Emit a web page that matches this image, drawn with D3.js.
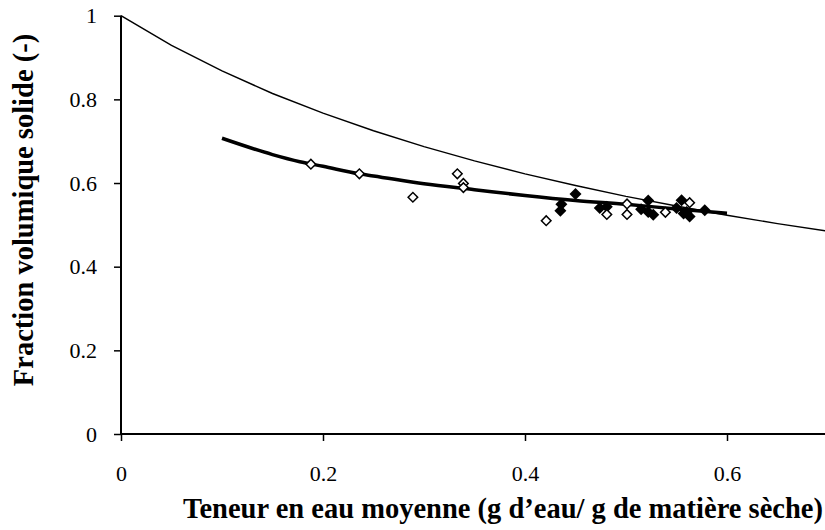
<!DOCTYPE html>
<html><head><meta charset="utf-8">
<script src="https://cdn.jsdelivr.net/npm/d3@7"></script>
<style>body{margin:0;background:#fff}svg{display:block}
text{font-family:"Liberation Serif","Times New Roman","DejaVu Serif",serif}</style>
</head><body>
<svg id="c" width="825" height="530"></svg>
<script>
// Model curve (thin line)
const modelX = [0, 0.05, 0.1, 0.15, 0.2, 0.25, 0.3, 0.35, 0.4, 0.45, 0.5, 0.55, 0.6, 0.65, 0.7];
const modelY = [1.000, 0.929, 0.868, 0.814, 0.767, 0.725, 0.687, 0.653, 0.622, 0.594, 0.568, 0.545, 0.523, 0.503, 0.485];
// Fit curve (thick line)
const fitX = [0.1, 0.15, 0.177, 0.2, 0.236, 0.25, 0.3, 0.35, 0.4, 0.45, 0.5, 0.55, 0.6];
const fitY = [0.707, 0.668, 0.651, 0.640, 0.622, 0.617, 0.598, 0.584, 0.570, 0.558, 0.549, 0.538, 0.528];
// Open diamonds
const openX = [0.188, 0.236, 0.289, 0.333, 0.339, 0.339, 0.421, 0.481, 0.501, 0.501, 0.539, 0.563];
const openY = [0.645, 0.622, 0.566, 0.622, 0.599, 0.589, 0.510, 0.525, 0.550, 0.525, 0.530, 0.553];
// Filled diamonds
const fillX = [0.450, 0.436, 0.435, 0.474, 0.481, 0.515, 0.522, 0.522, 0.527, 0.555, 0.550, 0.563, 0.560, 0.578, 0.557];
const fillY = [0.574, 0.549, 0.534, 0.540, 0.543, 0.537, 0.558, 0.531, 0.524, 0.559, 0.540, 0.520, 0.531, 0.535, 0.527];
// Ticks
const xTicks = [0, 0.2, 0.4, 0.6];
const xTickLabels = ["0", "0.2", "0.4", "0.6"];
const yTicks = [0, 0.2, 0.4, 0.6, 0.8, 1];
const yTickLabels = ["0", "0.2", "0.4", "0.6", "0.8", "1"];
const xTitle = "Teneur en eau moyenne (g d\u2019eau/ g de mati\u00e8re s\u00e8che)";
const yTitle = "Fraction volumique solide (-)";

const svg = d3.select("#c");
const x = d3.scaleLinear().domain([0, 0.7]).range([121, 828]);
const y = d3.scaleLinear().domain([0, 1]).range([434, 15.7]);

svg.append("defs").append("clipPath").attr("id", "pc")
  .append("rect").attr("x", 121).attr("y", 0).attr("width", 704).attr("height", 434);

const line = d3.line().x(d => x(d[0])).y(d => y(d[1]));
const plot = svg.append("g").attr("clip-path", "url(#pc)");
plot.append("path").datum(modelX.map((v, i) => [v, modelY[i]]))
  .attr("d", line).attr("fill", "none").attr("stroke", "#000").attr("stroke-width", 1.4);
plot.append("path").datum(fitX.map((v, i) => [v, fitY[i]]))
  .attr("d", d3.line().x(d => x(d[0])).y(d => y(d[1])).curve(d3.curveMonotoneX))
  .attr("fill", "none").attr("stroke", "#000").attr("stroke-width", 3.5).attr("stroke-linejoin", "round");

const diamondFilled = d3.symbol().type(d3.symbolSquare).size(72)();
const diamondOpen = d3.symbol().type(d3.symbolSquare).size(46)();
plot.selectAll(".f").data(fillX.map((v, i) => [v, fillY[i]])).enter().append("path")
  .attr("d", diamondFilled)
  .attr("transform", d => `translate(${x(d[0])},${y(d[1])}) rotate(45)`)
  .attr("fill", "#000");
plot.selectAll(".o").data(openX.map((v, i) => [v, openY[i]])).enter().append("path")
  .attr("d", diamondOpen)
  .attr("transform", d => `translate(${x(d[0])},${y(d[1])}) rotate(45)`)
  .attr("fill", "#fff").attr("stroke", "#000").attr("stroke-width", 1.5);

// Axes
const xAxis = d3.axisBottom(x).tickValues(xTicks).tickFormat((d, i) => xTickLabels[i]).tickSize(7).tickPadding(24);
const gx = svg.append("g").attr("transform", "translate(0,434)").call(xAxis);
gx.attr("font-family", null);
gx.select(".domain").attr("d", "M121,0H825").attr("stroke-width", 2);
gx.selectAll(".tick line").attr("stroke-width", 1.5);
gx.selectAll("text").style("font-size", "22px").attr("fill", "#000");

const yAxis = d3.axisLeft(y).tickValues(yTicks).tickFormat((d, i) => yTickLabels[i]).tickSize(7).tickPadding(17);
const gy = svg.append("g").attr("transform", "translate(121,0)").call(yAxis);
gy.attr("font-family", null);
gy.select(".domain").attr("d", "M0,434V15.7").attr("stroke-width", 2);
gy.selectAll(".tick line").attr("stroke-width", 1.5);
gy.selectAll("text").style("font-size", "22px").attr("fill", "#000");

svg.append("text").attr("x", 503).attr("y", 518).attr("text-anchor", "middle")
  .style("font-weight", "bold").style("font-size", "28.5px").text(xTitle);
svg.append("text").attr("transform", "translate(33,210) rotate(-90)").attr("text-anchor", "middle")
  .style("font-weight", "bold").style("font-size", "28.5px").text(yTitle);
</script>
</body></html>
